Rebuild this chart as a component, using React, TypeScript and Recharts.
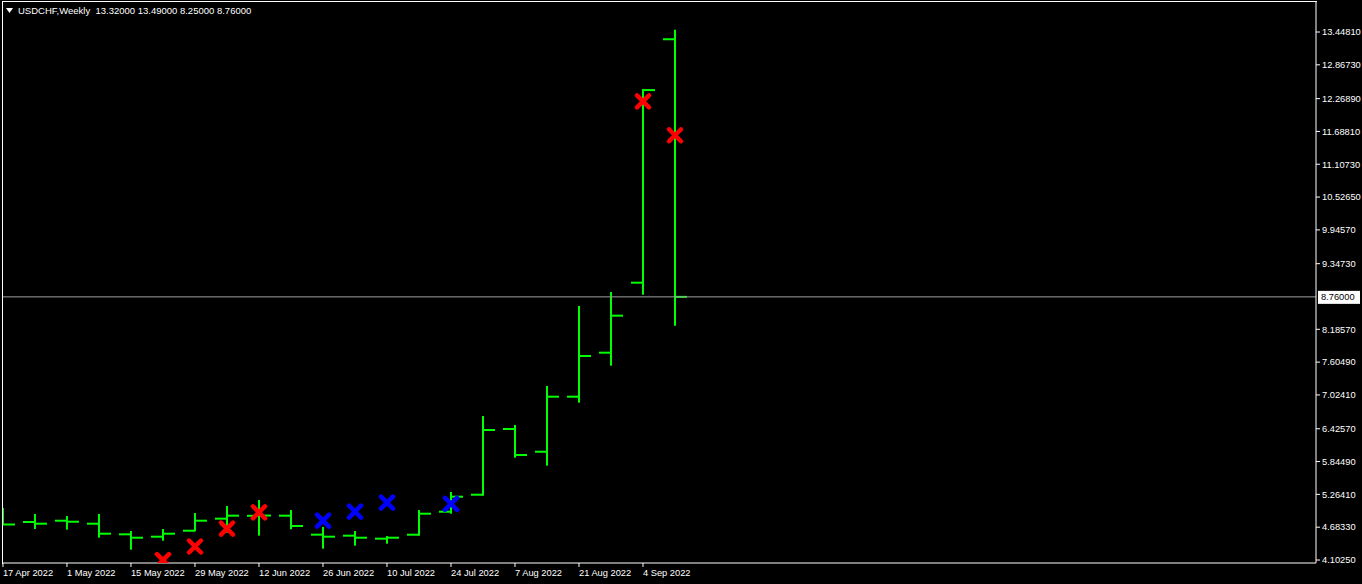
import {
  ComposedChart,
  Bar,
  Scatter,
  XAxis,
  YAxis,
  ReferenceLine,
} from "recharts";

// weekly USDCHF bars, one per week starting 17 Apr 2022
const weeks = [
  "17 Apr 2022", "24 Apr 2022", "1 May 2022", "8 May 2022", "15 May 2022",
  "22 May 2022", "29 May 2022", "5 Jun 2022", "12 Jun 2022", "19 Jun 2022",
  "26 Jun 2022", "3 Jul 2022", "10 Jul 2022", "17 Jul 2022", "24 Jul 2022",
  "31 Jul 2022", "7 Aug 2022", "14 Aug 2022", "21 Aug 2022", "28 Aug 2022",
  "4 Sep 2022", "11 Sep 2022",
];
const opens = [
  4.95, 4.775, 4.798, 4.745, 4.557, 4.515, 4.621, 4.834, 4.885, 4.887, 4.551,
  4.533, 4.48, 4.55, 4.957, 5.258, 6.421, 6.019, 6.993, 7.772, 9.011, 13.32,
];
const highs = [
  5.023, 4.917, 4.881, 4.917, 4.616, 4.651, 4.934, 5.058, 5.164, 4.987, 4.687,
  4.616, 4.527, 4.987, 5.306, 6.651, 6.492, 7.182, 8.598, 8.846, 12.44, 13.49,
];
const lows = [
  4.722, 4.651, 4.639, 4.497, 4.285, 4.444, 4.61, 4.586, 4.533, 4.646, 4.303,
  4.356, 4.391, 4.533, 4.922, 5.24, 5.913, 5.772, 6.887, 7.542, 8.798, 8.25,
];
const closes = [
  4.731, 4.745, 4.78, 4.568, 4.497, 4.568, 4.798, 4.887, 4.889, 4.704, 4.515,
  4.497, 4.497, 4.922, 5.223, 6.403, 5.961, 6.993, 7.713, 8.427, 12.42, 8.76,
];

// signal crosses (bar index, price)
const redIdx = [5, 6, 7, 8, 20, 21];
const redVals = [4.1, 4.341, 4.657, 4.947, 12.22, 11.62];
const blueIdx = [10, 11, 12, 14];
const blueVals = [4.798, 4.958, 5.117, 5.097];

const priceTicks = [
  4.1025, 4.6833, 5.2641, 5.8449, 6.4257, 7.0241, 7.6049, 8.1857, 9.3473,
  9.9457, 10.5265, 11.1073, 11.6881, 12.2689, 12.8673, 13.4481,
];
const dateTicks = [0, 2, 4, 6, 8, 10, 12, 14, 16, 18, 20];
const lastPrice = 8.76;

const bars = weeks.map((w, i) => ({
  i,
  week: w,
  range: [lows[i], highs[i]],
  open: opens[i],
  high: highs[i],
  low: lows[i],
  close: closes[i],
}));
const redPts = redIdx.map((i, k) => ({ i, v: redVals[k] }));
const bluePts = blueIdx.map((i, k) => ({ i, v: blueVals[k] }));

const GREEN = "#00ff00";
const FONT = "'Liberation Sans', Arial, sans-serif";
const FS = 9.3;

function OhlcShape(props: any) {
  const { x, y, width, height, payload } = props;
  if (x == null || y == null) return null;
  const top = Math.min(y, y + height);
  const bottom = Math.max(y, y + height);
  const cx = x + width / 2;
  const span = payload.high - payload.low || 1;
  const toY = (v: number) => top + ((payload.high - v) / span) * (bottom - top);
  const yo = toY(payload.open);
  const yc = toY(payload.close);
  return (
    <g stroke={GREEN} strokeWidth={2}>
      <line x1={cx} x2={cx} y1={top} y2={bottom} />
      <line x1={cx - width / 2} x2={cx} y1={yo} y2={yo} />
      <line x1={cx} x2={cx + width / 2} y1={yc} y2={yc} />
    </g>
  );
}

function Cross(color: string) {
  return (props: any) => {
    const { cx, cy } = props;
    if (cx == null || cy == null) return null;
    const r = 6;
    return (
      <g stroke={color} strokeWidth={4.5} strokeLinecap="round">
        <line x1={cx - r} y1={cy - r} x2={cx + r} y2={cy + r} />
        <line x1={cx - r} y1={cy + r} x2={cx + r} y2={cy - r} />
      </g>
    );
  };
}

function DateTick(props: any) {
  const { x, y, payload } = props;
  return (
    <text x={x} y={y} dy="0.71em" fill="#ffffff" fontSize={FS} fontFamily={FONT} textAnchor="start">
      {weeks[payload.value]}
    </text>
  );
}

function PriceLabel(props: any) {
  const { viewBox } = props;
  if (!viewBox) return null;
  const x = viewBox.x + viewBox.width + 2;
  const y = viewBox.y;
  return (
    <g>
      <rect x={x} y={y - 6} width={42} height={13} fill="#ffffff" />
      <text x={x + 3} y={y} dy="0.35em" fill="#000000" fontSize={FS} fontFamily={FONT}>
        {lastPrice.toFixed(5)}
      </text>
    </g>
  );
}

export default function App() {
  return (
    <div style={{ position: "relative", width: 1362, height: 584, background: "#000000" }}>
      <style>{"body{margin:0;background:#000}"}</style>
      <ComposedChart
        width={1362}
        height={584}
        data={bars}
        margin={{ top: 2, right: 0, bottom: 0, left: 2 }}
        style={{ fontFamily: FONT }}
      >
        <XAxis
          dataKey="i"
          type="number"
          domain={[-0.03, 41.03]}
          allowDataOverflow
          ticks={dateTicks}
          interval={0}
          height={21}
          stroke="#ffffff"
          tickSize={4}
          tickMargin={2}
          tick={<DateTick />}
        />
        <YAxis
          orientation="right"
          type="number"
          domain={[4.0494, 13.9791]}
          allowDataOverflow
          ticks={priceTicks}
          interval={0}
          width={46}
          stroke="#ffffff"
          tickSize={4}
          tickMargin={2}
          tick={{ fill: "#ffffff", fontSize: FS, fontFamily: FONT, textAnchor: "start" }}
          tickFormatter={(v: number) => v.toFixed(5)}
        />
        <ReferenceLine
          y={lastPrice}
          stroke="#a0a0a0"
          strokeWidth={1}
          label={<PriceLabel />}
        />
        <Bar
          dataKey="range"
          barSize={24}
          shape={<OhlcShape />}
          isAnimationActive={false}
        />
        <Scatter data={redPts} dataKey="v" shape={Cross("#ff0000")} isAnimationActive={false} />
        <Scatter data={bluePts} dataKey="v" shape={Cross("#0000ff")} isAnimationActive={false} />
      </ComposedChart>
      {/* plot frame, top and left edges */}
      <div
        style={{
          position: "absolute",
          left: 2,
          top: 1,
          width: 1314,
          height: 562,
          borderTop: "1px solid #ffffff",
          borderLeft: "1px solid #ffffff",
          pointerEvents: "none",
        }}
      />
      <div
        style={{
          position: "absolute",
          left: 6,
          top: 5,
          color: "#ffffff",
          fontFamily: FONT,
          fontSize: 9.5,
          lineHeight: "11px",
          whiteSpace: "pre",
          display: "flex",
          alignItems: "center",
        }}
      >
        <svg width={7} height={5} style={{ marginRight: 5 }}>
          <polygon points="0,0 7,0 3.5,5" fill="#ffffff" />
        </svg>
        {"USDCHF,Weekly  13.32000 13.49000 8.25000 8.76000"}
      </div>
    </div>
  );
}
